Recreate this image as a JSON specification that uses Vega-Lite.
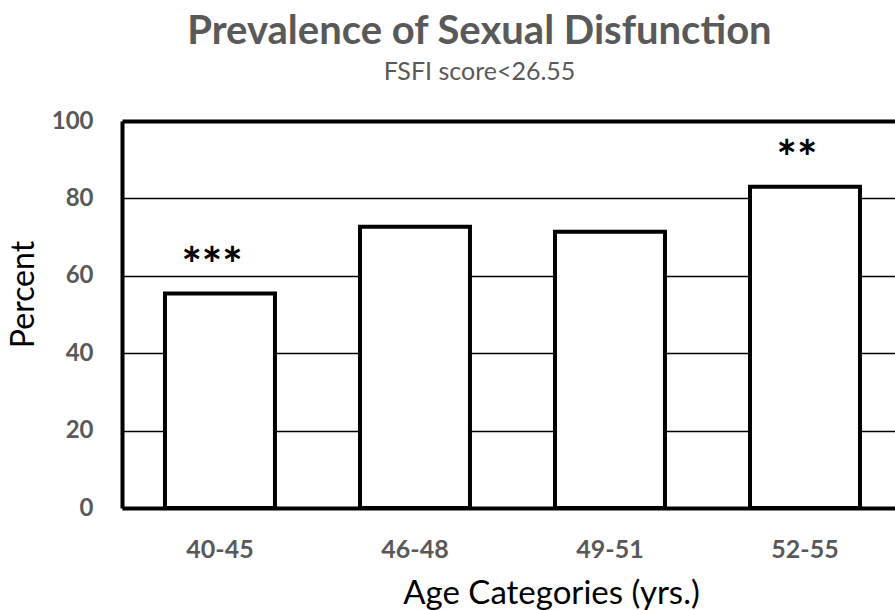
{
  "$schema": "https://vega.github.io/schema/vega-lite/v6.json",
  "width": 773,
  "height": 387,
  "autosize": "none",
  "padding": {"left": 122, "top": 121, "right": 0, "bottom": 102},
  "background": "white",
  "title": {
    "text": "Prevalence of Sexual Disfunction",
    "subtitle": "FSFI score<26.55",
    "anchor": "middle",
    "frame": "group",
    "dx": -29,
    "offset": 24,
    "font": "Lato",
    "fontSize": 40,
    "fontWeight": "bold",
    "color": "#595959",
    "subtitleFont": "Lato",
    "subtitleFontSize": 25,
    "subtitleColor": "#595959",
    "subtitlePadding": 8
  },
  "config": {"view": {"stroke": null}},
  "data": {
    "values": [
      {"age": "40-45", "percent": 55.4, "sig": "***"},
      {"age": "46-48", "percent": 72.7, "sig": ""},
      {"age": "49-51", "percent": 71.4, "sig": ""},
      {"age": "52-55", "percent": 83.0, "sig": "**"}
    ]
  },
  "encoding": {
    "x": {
      "field": "age",
      "type": "nominal",
      "sort": null,
      "scale": {"paddingInner": 0.436, "paddingOuter": 0.2, "align": 0.551},
      "axis": {
        "title": "Age Categories (yrs.)",
        "labelAngle": 0,
        "ticks": false,
        "domainColor": "black",
        "domainWidth": 4,
        "labelPadding": 29,
        "labelFont": "Lato",
        "labelFontSize": 25,
        "labelFontWeight": "bold",
        "labelColor": "#595959",
        "titleFont": "Lato",
        "titleFontSize": 33,
        "titleFontWeight": "normal",
        "titleColor": "black",
        "titleX": 429,
        "titleY": 95,
        "titleBaseline": "alphabetic",
        "titleAlign": "center"
      }
    },
    "y": {
      "field": "percent",
      "type": "quantitative",
      "scale": {"domain": [0, 100], "nice": false},
      "axis": {
        "title": "Percent",
        "values": [0, 20, 40, 60, 80, 100],
        "ticks": false,
        "grid": true,
        "gridColor": "black",
        "gridOpacity": 1,
        "gridWidth": {"condition": {"test": "datum.value === 100", "value": 4}, "value": 1.5},
        "domainColor": "black",
        "domainWidth": 4,
        "labelPadding": 29,
        "labelFont": "Lato",
        "labelFontSize": 24,
        "labelFontWeight": "bold",
        "labelColor": "#595959",
        "titleFont": "Lato",
        "titleFontSize": 32,
        "titleFontWeight": "normal",
        "titleColor": "black",
        "titleAngle": -90,
        "titleX": -99,
        "titleY": 173,
        "titleAlign": "center",
        "titleBaseline": "middle"
      }
    }
  },
  "layer": [
    {
      "mark": {"type": "bar", "fill": "white", "stroke": "black", "strokeWidth": 4}
    },
    {
      "mark": {"type": "text", "font": "Lato", "fontSize": 48, "fontWeight": "bold", "color": "black", "baseline": "middle", "dy": -26, "dx": -8},
      "encoding": {"text": {"field": "sig"}}
    }
  ]
}
